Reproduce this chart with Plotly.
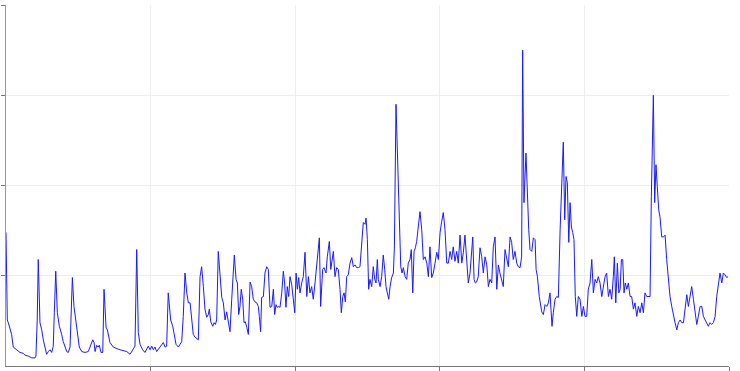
import plotly.graph_objects as go

# sample positions (arbitrary time units, axis 0..500)
t = [0, 0.9, 1.6, 2.8, 3.9, 5.0, 7.4, 9.7, 12.0, 13.1, 15.4, 17.8, 20.1, 20.7, 21.6, 22.3, 23.5, 24.7, 25.8, 28.1,
     29.3, 30.4, 31.6, 32.7, 33.4, 34.4, 35.5, 36.9, 38.5, 39.6, 42.0, 43.1, 44.3, 45.0, 45.9, 47.0, 48.4, 49.3, 50.7, 52.4,
     54.6, 56.9, 58.1, 60.0, 60.9, 61.6, 62.7, 63.8, 64.5, 65.7, 66.9,
     67.8, 69.2, 70.1, 71.9, 74.2, 78.8, 83.5, 85.8, 88.0, 89.2, 90.4, 91.5, 92.7, 94.5, 96.1, 97.3, 98.4, 99.6, 100.8,
     101.9, 103.0, 104.2, 106.5, 108.8, 110.0, 111.1, 112.2, 113.9, 115.3, 116.2, 117.6, 119.2, 120.3, 121.5, 122.6, 123.8,
     125.0, 126.1, 127.3, 128.4, 129.5, 130.7, 133.0, 134.2, 135.3, 136.5, 137.6, 138.8, 139.9, 140.6, 141.6, 143.0, 143.9,
     144.8, 145.7, 146.8, 148.0, 149.2, 150.3, 151.5, 152.6, 153.7, 154.9, 156.1, 157.2, 157.9, 159.1, 160.0, 160.9, 161.8,
     162.7, 163.7, 164.6, 165.5, 166.5, 167.6, 168.8, 169.9, 171.0, 172.2, 173.4, 174.5, 175.2, 176.1, 176.8, 178.0, 179.1,
     180.3, 181.4, 182.6, 183.8, 184.9, 185.8, 186.7, 187.6, 188.6, 189.5, 190.7, 191.8, 192.7, 193.6, 194.5, 195.5, 196.4,
     197.6, 198.7, 199.7, 200.6, 201.5, 202.4, 203.3, 204.5, 205.6, 206.8, 207.3, 208.0, 209.1, 210.2, 211.4, 212.5, 213.7,
     214.9, 216.0, 216.7, 217.6, 219.0, 219.9, 221.3, 222.2, 223.6, 224.6, 225.5, 226.4, 227.5, 228.7, 229.8, 231.0, 231.9,
     232.9, 233.8, 234.7, 235.6, 236.7, 237.9, 239.1, 240.2, 241.4, 242.5, 243.7, 244.8, 246.0, 247.1, 248.3, 249.0, 249.9,
     250.8, 251.7, 252.9, 254.0, 255.0, 255.9, 256.8, 257.5, 258.7, 259.8, 260.9, 261.9, 262.8, 263.7, 264.7, 265.6, 266.7,
     267.9, 268.6, 269.7, 272.0, 273.0, 273.9, 274.8, 276.0, 277.1, 278.2, 279.4, 280.3, 281.3, 282.2, 283.1, 284.0, 285.2,
     286.3, 287.5, 288.6, 289.8, 291.0, 292.1, 293.2, 294.4, 295.5, 296.7, 297.9, 299.0, 300.2, 301.3, 302.4, 303.6, 304.8,
     305.9, 307.1, 308.2, 309.3, 310.5, 311.7, 312.8, 314.0, 315.2, 316.3, 317.4, 318.6, 319.7, 320.9, 322.1, 322.8, 323.7,
     324.6, 325.5, 326.6, 327.8, 329.0, 330.1, 331.3, 332.5, 333.6, 334.7, 335.9, 337.0, 338.2, 339.4, 340.5, 341.6, 342.8,
     343.9, 345.1, 346.3, 347.4, 348.6, 349.7, 350.8, 352.0, 353.2, 354.3, 355.5, 356.6, 357.3, 358.2, 359.6, 360.5, 361.5,
     362.4, 363.6, 364.7, 365.9, 366.6, 367.5, 368.8, 370.5, 371.6, 372.8, 374.0, 375.1, 376.2, 376.9, 377.6, 378.5, 379.7,
     380.9, 382.0, 383.2, 384.3, 385.4, 386.4, 387.3, 388.2, 389.2, 390.1, 391.0, 391.9, 392.8, 393.7, 394.7, 395.8, 397.0,
     398.2, 399.3, 400.4, 401.6, 402.7, 403.9, 405.1, 406.2, 407.4, 408.5, 409.6, 410.8, 412.0, 413.1, 414.3, 415.4, 416.6,
     417.7, 418.9, 420.0, 420.7, 421.7, 422.8, 423.8, 424.7, 425.6, 426.5, 427.4, 428.3, 429.3, 430.4, 431.6, 432.7, 433.9,
     435.0, 436.2, 437.3, 438.5, 439.7, 440.8, 441.9, 443.1, 444.2, 445.4, 446.3, 447.2, 447.7, 448.6, 449.5, 450.4, 451.4,
     452.3, 453.5, 454.6, 455.8, 456.9, 458.1, 459.2, 460.4, 461.5, 462.7, 463.9, 465.0, 466.2, 467.3, 468.5, 469.6, 470.8,
     471.9, 473.1, 474.2, 475.4, 476.5, 477.7, 478.8, 480.0, 481.2, 482.3, 483.5, 484.6, 485.7, 486.9, 488.0, 489.2, 490.4,
     491.5, 492.7, 493.8, 495.0, 496.1, 497.3, 498.4, 499.3]

values = [1.48, 0.51, 0.48, 0.40, 0.35, 0.21, 0.18, 0.15, 0.14, 0.12, 0.11, 0.09, 0.09, 0.11, 0.51, 1.18, 0.48, 0.40, 0.29, 0.13,
          0.16, 0.18, 0.15, 0.22, 0.59, 1.05, 0.59, 0.44, 0.35, 0.27, 0.16, 0.15, 0.21, 0.59, 0.98, 0.66, 0.51, 0.37, 0.21, 0.16,
          0.15, 0.16, 0.21, 0.29, 0.26, 0.16, 0.23, 0.21, 0.23, 0.15, 0.15,
          0.85, 0.43, 0.40, 0.26, 0.21, 0.18, 0.16, 0.13, 0.18, 0.22, 1.29, 0.37, 0.24, 0.18, 0.15, 0.18, 0.22, 0.18, 0.22,
          0.18, 0.21, 0.16, 0.21, 0.26, 0.21, 0.22, 0.81, 0.51, 0.44, 0.37, 0.24, 0.21, 0.24, 0.27, 0.55, 1.03,
          0.81, 0.70, 0.70, 0.55, 0.35, 0.32, 0.29, 0.99, 1.10, 0.88, 0.63, 0.54, 0.57, 0.63, 0.49, 0.44, 0.48,
          0.46, 0.51, 1.27, 0.96, 0.76, 0.70, 0.51, 0.60, 0.51, 0.38, 0.74, 0.99, 1.23, 0.96, 0.92, 0.57, 0.66,
          0.85, 0.74, 0.48, 0.49, 0.43, 0.35, 0.93, 0.88, 0.74, 0.71, 0.70, 0.66, 0.55, 0.38, 0.76, 0.77, 1.03,
          1.10, 1.07, 0.65, 0.66, 0.85, 0.57, 0.68, 0.65, 0.66, 0.65, 0.81, 1.05, 0.92, 0.65, 0.88, 0.77, 0.99,
          0.90, 0.74, 0.59, 1.03, 0.85, 0.98, 0.81, 0.92, 0.99, 1.26, 0.96, 0.77, 0.99, 0.81, 0.88, 0.74, 0.92,
          1.10, 1.29, 1.42, 0.66, 1.07, 1.09, 1.03, 1.21, 1.38, 1.07, 1.21, 1.27, 0.99, 1.09, 1.07, 0.85, 0.59,
          0.77, 0.81, 0.71, 0.99, 1.01, 1.14, 1.20, 1.10, 1.12, 1.09, 1.09, 1.10, 1.40, 1.59, 1.57, 1.64, 1.40,
          0.85, 0.96, 0.88, 1.10, 0.96, 0.92, 1.18, 0.96, 0.88, 0.99, 1.23, 1.07, 0.88, 0.81, 0.74, 0.88, 0.98,
          1.03, 1.32, 2.90, 1.43, 1.10, 1.03, 1.09, 0.99, 0.96, 1.14, 1.18, 1.29, 0.81, 1.27, 1.31, 1.38, 1.59,
          1.71, 1.51, 1.18, 1.21, 1.14, 0.99, 1.32, 0.98, 1.03, 1.14, 1.26, 1.18, 1.48, 1.60, 1.70, 1.51, 1.14,
          1.14, 1.27, 1.18, 1.32, 1.16, 1.27, 1.14, 1.45, 1.14, 1.26, 1.45, 1.18, 0.92, 1.03, 1.26, 1.43, 0.96,
          0.92, 0.93, 0.99, 1.31, 1.21, 1.03, 1.21, 1.12, 0.88, 0.96, 0.92, 1.32, 1.43, 0.85, 1.12, 1.03, 0.96,
          0.88, 1.29, 1.18, 1.10, 1.43, 1.37, 1.18, 1.27, 1.14, 1.10, 1.09, 1.21, 3.50, 1.81, 2.36, 1.81, 1.51,
          1.29, 1.27, 1.42, 1.40, 1.07, 0.99, 0.77, 0.60, 0.57, 0.68, 0.66, 0.70, 0.81, 0.63, 0.44, 0.59, 0.74,
          0.77, 0.76, 1.51, 2.06, 2.48, 1.62, 2.10, 2.03, 1.37, 1.81, 1.54, 1.48, 1.40, 0.77, 0.55, 0.77, 0.74,
          0.55, 0.66, 0.55, 0.55, 0.85, 0.92, 1.18, 0.81, 0.96, 0.92, 0.99, 0.92, 0.77, 0.88, 0.99, 1.03, 0.77,
          0.85, 0.74, 0.99, 1.21, 0.70, 1.14, 0.81, 0.85, 1.18, 1.18, 0.81, 0.92, 0.85, 0.92, 0.77, 0.77, 0.63,
          0.70, 0.55, 0.66, 0.59, 0.70, 0.59, 0.81, 0.77, 0.77, 0.77, 1.88, 2.65, 3.00, 1.81, 2.23, 1.99, 1.73,
          1.65, 1.43, 1.43, 1.45, 1.18, 0.92, 0.77, 0.66, 0.55, 0.48, 0.40, 0.48, 0.51, 0.48, 0.48, 0.66, 0.79,
          0.66, 0.77, 0.88, 0.74, 0.63, 0.46, 0.55, 0.66, 0.66, 0.55, 0.51, 0.48, 0.44, 0.48, 0.46, 0.48, 0.55,
          0.77, 0.92, 1.03, 0.92, 1.03, 1.01, 0.98, 0.99]

x_ticks = [100, 200, 300, 400, 500]
y_ticks = [1, 2, 3, 4]

fig = go.Figure(go.Scatter(x=t, y=values, mode="lines",
                           line=dict(color="#1a1aff", width=1), hoverinfo="skip"))

fig.update_layout(
    width=740, height=371,
    margin=dict(l=6, r=11, t=5, b=5, autoexpand=False),
    paper_bgcolor="white", plot_bgcolor="white",
    showlegend=False,
)
fig.update_xaxes(range=[0, 500], tickvals=x_ticks, showticklabels=False, automargin=False,
                 showgrid=True, gridcolor="#eeeeee", gridwidth=1,
                 showline=True, linecolor="#777777", linewidth=1,
                 ticks="outside", ticklen=4, tickcolor="#777777", zeroline=False)
fig.update_yaxes(range=[0, 4], tickvals=y_ticks, showticklabels=False, automargin=False,
                 showgrid=True, gridcolor="#eeeeee", gridwidth=1,
                 showline=True, linecolor="#999999", linewidth=1,
                 ticks="outside", ticklen=4, tickcolor="#777777", zeroline=False)

fig.write_html("out.html", config={"displayModeBar": False})
